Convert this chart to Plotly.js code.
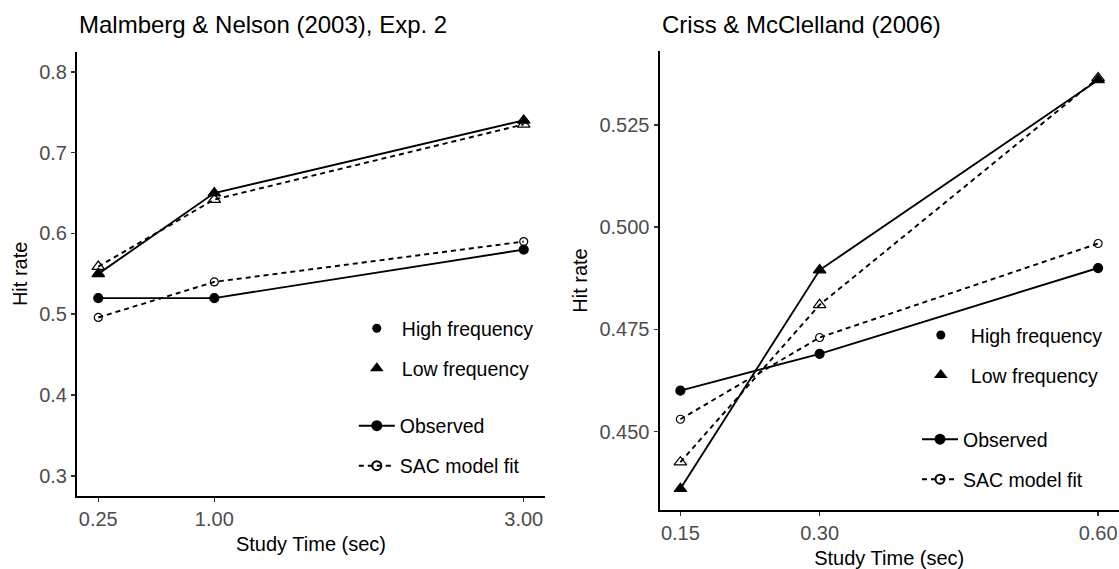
<!DOCTYPE html>
<html><head><meta charset="utf-8">
<script src="https://cdn.plot.ly/plotly-3.0.1.min.js"></script>
<style>html,body{margin:0;padding:0;background:#fff}#chart{width:1119px;height:569px}</style>
</head><body><div id="chart"></div>
<script>
// ---- data ----
const timeL = [0.25, 1.00, 3.00];
const hfObsL = [0.52, 0.52, 0.58];
const hfSacL = [0.496, 0.54, 0.59];
const lfObsL = [0.55, 0.65, 0.74];
const lfSacL = [0.559, 0.642, 0.735];

const timeR = [0.15, 0.30, 0.60];
const hfObsR = [0.460, 0.469, 0.490];
const hfSacR = [0.453, 0.473, 0.496];
const lfObsR = [0.436, 0.4895, 0.536];
const lfSacR = [0.4425, 0.481, 0.5365];

const panelTitles = ["Malmberg & Nelson (2003), Exp. 2", "Criss & McClelland (2006)"];
const xTitle = "Study Time (sec)";
const yTitle = "Hit rate";
const freqLabels = ["High frequency", "Low frequency"];
const fitLabels = ["Observed", "SAC model fit"];

// ---- styling ----
const FONT = "Liberation Sans, Arial, Helvetica, sans-serif";
const LW = 1.9;
const DASH = "5px,4px";
const W = 1119, H = 569;
const px = v => v / W;
const py = v => 1 - v / H;

function series(x, y, xa, ya, dashed, symbol, size) {
  return {
    x: x, y: y, xaxis: xa, yaxis: ya, type: "scatter", mode: "lines+markers",
    showlegend: false, hoverinfo: "x+y",
    line: {color: "#000", width: LW, dash: dashed ? DASH : "solid"},
    marker: {symbol: symbol, size: size, color: "#000", line: {color: "#000", width: 1.2}}
  };
}

const traces = [
  series(timeL, hfObsL, "x", "y", false, "circle", 9),
  series(timeL, hfSacL, "x", "y", true, "circle-open", 8),
  series(timeL, lfObsL, "x", "y", false, "triangle-up", 11),
  series(timeL, lfSacL, "x", "y", true, "triangle-up-open", 11),
  series(timeR, hfObsR, "x2", "y2", false, "circle", 9),
  series(timeR, hfSacR, "x2", "y2", true, "circle-open", 8),
  series(timeR, lfObsR, "x2", "y2", false, "triangle-up", 11),
  series(timeR, lfSacR, "x2", "y2", true, "triangle-up-open", 11)
];

// legend entries
function shapeEntry(name, symbol, size, leg, xa, ya) {
  return {x: [null], y: [null], xaxis: xa, yaxis: ya, type: "scatter", mode: "markers",
    name: name, legend: leg, legendgroup: leg + name, showlegend: true, hoverinfo: "skip",
    marker: {symbol: symbol, size: size, color: "#000"}};
}
function lineEntry(name, dashed, symbol, leg, xa, ya) {
  return {x: [null], y: [null], xaxis: xa, yaxis: ya, type: "scatter", mode: "lines+markers",
    name: name, legend: leg, legendgroup: leg + name, showlegend: true, hoverinfo: "skip",
    line: {color: "#000", width: 2, dash: dashed ? "5px,4px" : "solid"},
    marker: {symbol: symbol, size: 9, color: "#000", line: {color: "#000", width: 2}}};
}
traces.push(
  shapeEntry(freqLabels[0], "circle", 9, "legend", "x", "y"),
  shapeEntry(freqLabels[1], "triangle-up", 12, "legend", "x", "y"),
  lineEntry(fitLabels[0], false, "circle", "legend2", "x", "y"),
  lineEntry(fitLabels[1], true, "circle-open", "legend2", "x", "y"),
  shapeEntry(freqLabels[0], "circle", 9, "legend3", "x2", "y2"),
  shapeEntry(freqLabels[1], "triangle-up", 12, "legend3", "x2", "y2"),
  lineEntry(fitLabels[0], false, "circle", "legend4", "x2", "y2"),
  lineEntry(fitLabels[1], true, "circle-open", "legend4", "x2", "y2")
);

function axisBase() {
  return {
    showgrid: false, zeroline: false, showline: true, linecolor: "#000", linewidth: 2,
    ticks: "outside", ticklen: 4, tickwidth: 1.5, tickcolor: "#333",
    tickfont: {family: FONT, size: 20, color: "#4D4D4D"}, fixedrange: true
  };
}

function legendBase(x, y, iw) {
  return {x: x, y: y, xanchor: "left", yanchor: "top", xref: "paper", yref: "paper",
    bgcolor: "rgba(0,0,0,0)", borderwidth: 0, traceorder: "grouped", tracegroupgap: 11.65,
    itemwidth: iw, itemclick: false, itemdoubleclick: false,
    font: {family: FONT, size: 19.5, color: "#000"}};
}

const layout = {
  width: W, height: H, margin: {l: 0, r: 0, t: 0, b: 0},
  paper_bgcolor: "#fff", plot_bgcolor: "#fff",
  font: {family: FONT, color: "#000"},
  xaxis: Object.assign(axisBase(), {domain: [px(77), px(545)], range: [0.1125, 3.1375], anchor: "y",
    tickvals: timeL, tickformat: ".2f",
    title: {text: xTitle, font: {family: FONT, size: 20, color: "#000"}, standoff: 8}}),
  yaxis: Object.assign(axisBase(), {domain: [py(496), py(51.7)], range: [0.275, 0.825], anchor: "x",
    tick0: 0.3, dtick: 0.1, tickformat: ".1f",
    title: {text: yTitle, font: {family: FONT, size: 20, color: "#000"}, standoff: 6}}),
  xaxis2: Object.assign(axisBase(), {domain: [px(659.5), 1], range: [0.1275, 0.6225], anchor: "y2",
    tickvals: timeR, tickformat: ".2f",
    title: {text: xTitle, font: {family: FONT, size: 20, color: "#000"}, standoff: 8}}),
  yaxis2: Object.assign(axisBase(), {domain: [py(510), py(51)], range: [0.4308, 0.5431], anchor: "x2",
    tick0: 0.45, dtick: 0.025, tickformat: ".3f",
    title: {text: yTitle, font: {family: FONT, size: 20, color: "#000"}, standoff: 6}}),
  legend: legendBase(px(351.8), py(309.1), 40),
  legend2: legendBase(px(353.8), py(406.5), 36),
  legend3: legendBase(px(910.8), py(315.8), 50),
  legend4: legendBase(px(917), py(420), 36),
  annotations: [
    {text: panelTitles[0], xref: "paper", yref: "paper", x: px(77), y: py(24), xanchor: "left", yanchor: "middle",
     showarrow: false, font: {family: FONT, size: 24, color: "#000"}},
    {text: panelTitles[1], xref: "paper", yref: "paper", x: px(659.5), y: py(24), xanchor: "left", yanchor: "middle",
     showarrow: false, font: {family: FONT, size: 24, color: "#000"}}
  ],
  showlegend: true
};

Plotly.newPlot("chart", traces, layout, {staticPlot: true, displayModeBar: false});
</script>
</body></html>
